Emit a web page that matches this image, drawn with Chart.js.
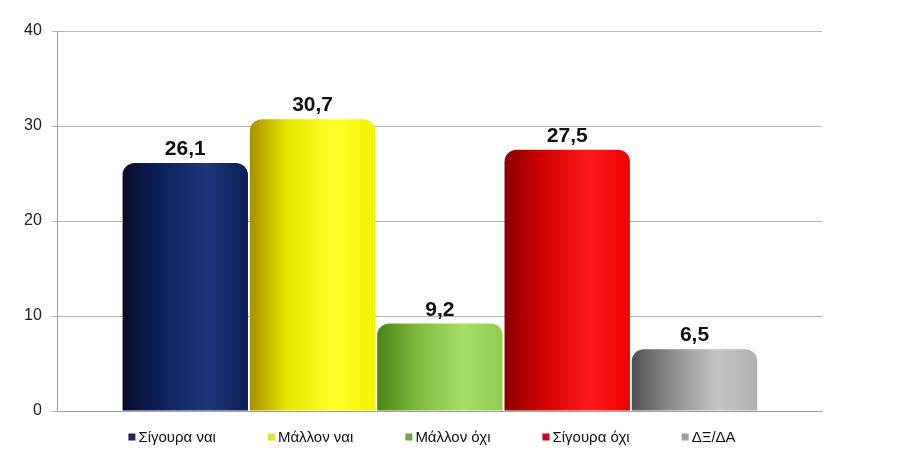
<!DOCTYPE html>
<html>
<head>
<meta charset="utf-8">
<script src="https://cdn.jsdelivr.net/npm/chart.js@4"></script>
<style>
  html,body{margin:0;padding:0;background:#fff;}
  #wrap{width:900px;height:450px;}
</style>
</head>
<body>
<div id="wrap"><canvas id="chart" width="900" height="450"></canvas></div>
<script>
// one category, five series (as in the original sheet)
const seriesNames = ["Σίγουρα ναι", "Μάλλον ναι", "Μάλλον όχι", "Σίγουρα όχι", "ΔΞ/ΔΑ"];
const seriesValues = [26.1, 30.7, 9.2, 27.5, 6.5];
const yTicks = [0, 10, 20, 30, 40];

// left edge, base, highlight, right edge
const shades = [
  ["#040c28", "#0e215c", "#1f367a", "#0b1d56"],
  ["#a89000", "#e6e600", "#ffff2a", "#f2f200"],
  ["#4a8418", "#7cb83a", "#a6de68", "#90cc50"],
  ["#8a0000", "#d00000", "#ff1a1a", "#f00000"],
  ["#505050", "#8a8a8a", "#c4c4c4", "#b0b0b0"]
];
const legendColors = ["#1a2a60", "#e0e040", "#70a840", "#c80020", "#a0a0a0"];
const FONT = "'Liberation Sans', Arial, sans-serif";

function barFill(ctx){
  const i = ctx.datasetIndex;
  const s = shades[i];
  const el = ctx.chart.getDatasetMeta(i).data[0];
  if(!el || el.x == null || isNaN(el.x) || !el.width) return s[1];
  const x0 = el.x - el.width/2, x1 = el.x + el.width/2;
  const g = ctx.chart.ctx.createLinearGradient(x0, 0, x1, 0);
  g.addColorStop(0, s[0]);
  g.addColorStop(0.3, s[1]);
  g.addColorStop(0.68, s[2]);
  g.addColorStop(1, s[3]);
  return g;
}

const valueLabels = {
  id: "valueLabels",
  afterDatasetsDraw(chart){
    const c = chart.ctx;
    c.save();
    c.font = "bold 21px " + FONT;
    c.fillStyle = "#111";
    c.textAlign = "center";
    c.textBaseline = "alphabetic";
    chart.data.datasets.forEach((ds, i) => {
      const el = chart.getDatasetMeta(i).data[0];
      c.fillText(String(ds.data[0]).replace(".", ","), el.x, el.y - 8);
    });
    c.restore();
  }
};

// bottom legend with wider gaps than the built-in one allows
const bottomLegend = {
  id: "bottomLegend",
  afterDraw(chart){
    const c = chart.ctx;
    const box = 7, gap = 52, textOff = 3;
    c.save();
    c.font = "15px " + FONT;
    const widths = chart.data.datasets.map(ds => c.measureText(ds.label).width);
    const total = widths.reduce((a, w) => a + box + textOff + w, 0) + gap * (widths.length - 1);
    let x = 432 - total / 2;
    const y = 437;
    c.textBaseline = "middle";
    chart.data.datasets.forEach((ds, i) => {
      c.fillStyle = legendColors[i];
      c.fillRect(x, y - box / 2, box, box);
      c.fillStyle = "#111";
      c.fillText(ds.label, x + box + textOff, y + 1);
      x += box + textOff + widths[i] + gap;
    });
    c.restore();
  }
};

const datasets = seriesNames.map((name, i) => ({
  label: name,
  data: [seriesValues[i]],
  backgroundColor: barFill,
  borderWidth: 0,
  borderRadius: {topLeft: 12, topRight: 12, bottomLeft: 0, bottomRight: 0},
  borderSkipped: "bottom",
  categoryPercentage: 0.833,
  barPercentage: 0.985
}));

const chart = new Chart(document.getElementById("chart"), {
  type: "bar",
  data: { labels: [""], datasets },
  options: {
    responsive: false,
    animation: false,
    layout: { padding: { top: 31, right: 78, left: 14, bottom: 31 } },
    plugins: {
      legend: { display: false },
      tooltip: { enabled: false }
    },
    scales: {
      x: {
        ticks: { display: false },
        grid: { display: false },
        border: { display: true, color: "#a0a0a0" }
      },
      y: {
        min: 0, max: 40,
        afterBuildTicks: ax => { ax.ticks = yTicks.map(v => ({ value: v })); },
        ticks: {
          color: "#222", padding: 10,
          font: { family: FONT, size: 16 }
        },
        grid: { color: "#b4b4b4", tickLength: 6, drawTicks: true },
        border: { display: true, color: "#a0a0a0" }
      }
    }
  },
  plugins: [valueLabels, bottomLegend]
});
chart.update("none");
</script>
</body>
</html>
